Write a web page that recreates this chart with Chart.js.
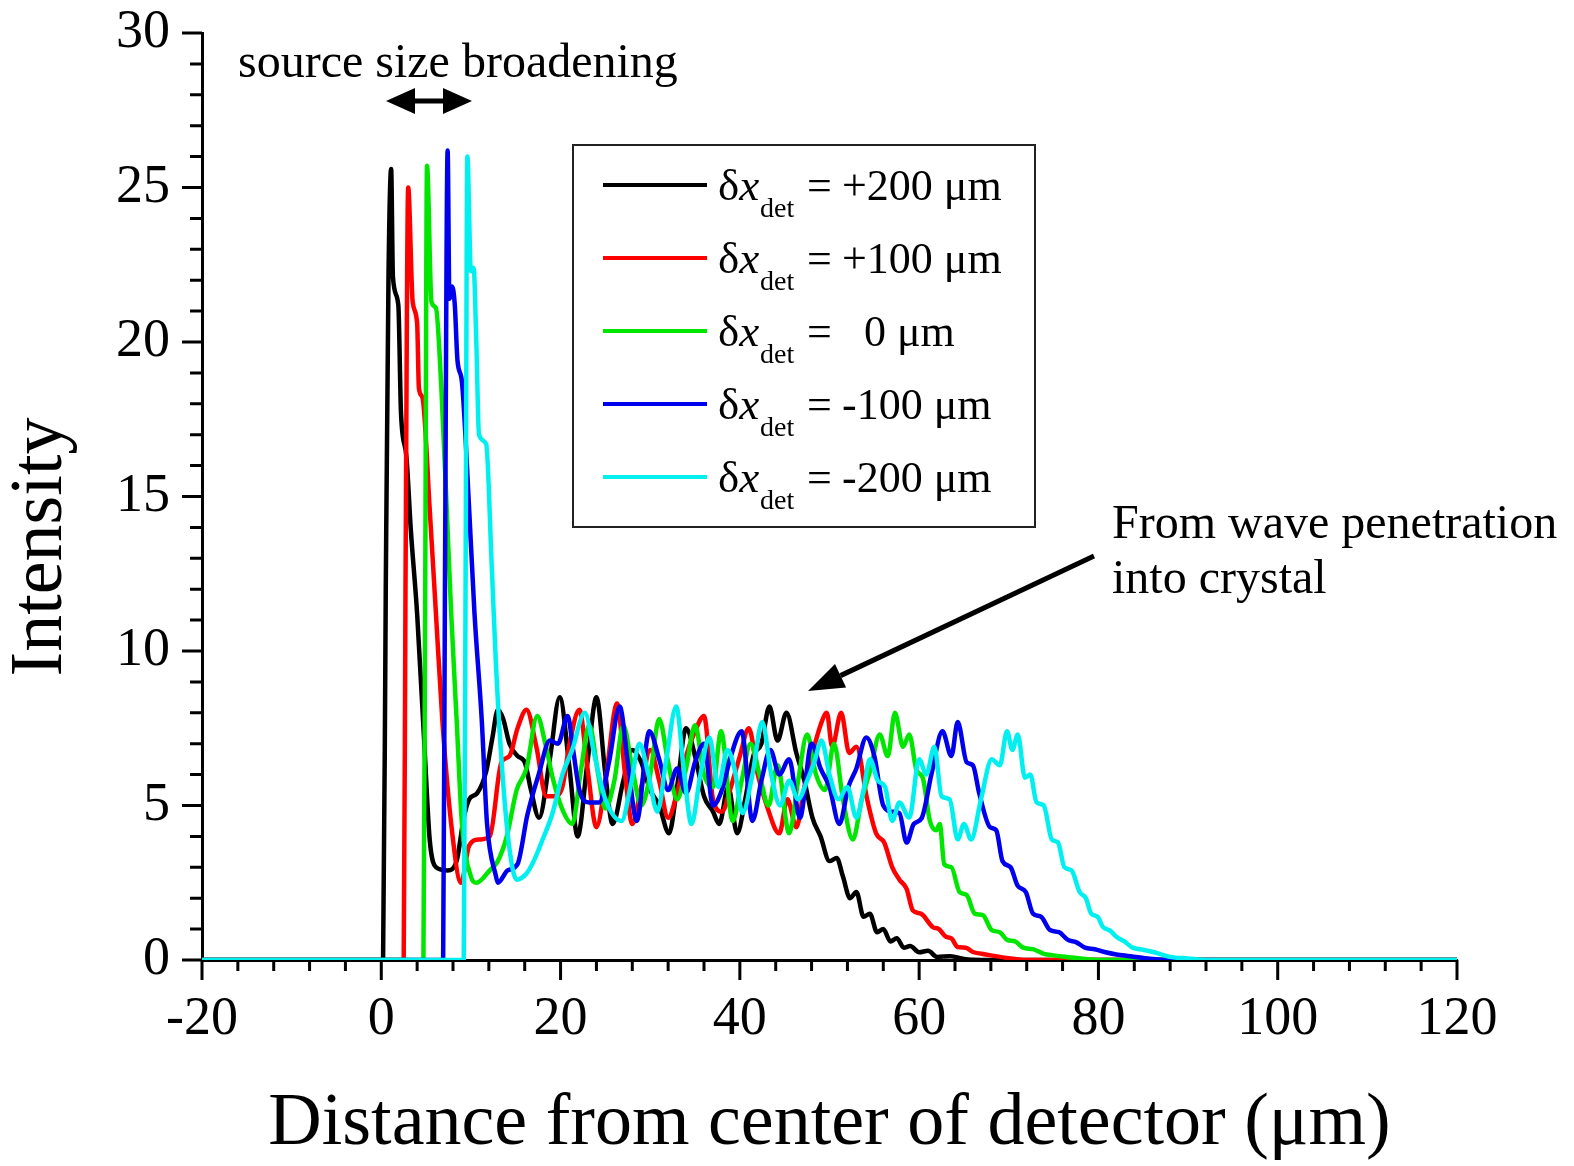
<!DOCTYPE html>
<html>
<head>
<meta charset="utf-8">
<script src="https://cdn.jsdelivr.net/npm/chart.js@4.4.1/dist/chart.umd.min.js"></script>
<style>
  html, body { margin: 0; padding: 0; background: #fff; }
  #wrap { width: 1574px; height: 1166px; }
</style>
</head>
<body>
<div id="wrap"><canvas id="profileChart" width="1574" height="1166"></canvas></div>
<script>
// Intensity profiles, [distance (um), intensity]
const plus200 = [[-20,0],[0.2,0],[0.5,12],[0.8,22],[1.1,25.6],[1.3,22.1],[1.9,21.2],[2.2,17.7],[2.8,16.3],[3.3,13.9],[4.0,11.2],[4.8,7.0],[5.4,3.9],[6.1,3.0],[7.4,2.9],[8.4,3.2],[9.2,4.6],[9.8,5.2],[10.7,5.4],[11.7,6.1],[12.4,7.2],[13.0,8.1],[13.6,7.8],[14.3,7.0],[15.2,6.6],[16.0,6.4],[16.7,5.5],[17.6,4.6],[18.8,6.5],[19.9,8.5],[21.0,6.2],[21.9,4.0],[23.0,6.4],[24.0,8.5],[25.0,6.0],[25.8,4.4],[27.0,5.8],[28.0,6.8],[29.0,6.4],[30.0,5.5],[31.0,5.0],[32.1,4.1],[33.0,5.6],[34.0,7.5],[35.0,6.6],[36.0,5.3],[37.0,4.8],[37.7,4.4],[38.7,5.6],[39.7,4.1],[40.6,5.2],[41.5,6.6],[42.4,7.0],[43.3,8.2],[44.2,7.1],[45.2,8.0],[46.3,6.7],[47.2,5.8],[48.1,4.6],[49.0,4.0],[50.0,3.2],[50.8,3.3],[51.5,2.7],[52.3,2.0],[53.0,2.2],[53.8,1.4],[54.5,1.5],[55.3,0.9],[56.0,1.0],[56.8,0.6],[57.5,0.7],[58.3,0.4],[59.0,0.45],[60.0,0.25],[61.0,0.3],[62.0,0.1],[63.5,0.12],[65,0.03],[67,0],[120,0]];

const plus100 = [[-20,0],[2.5,0],[2.7,12],[3.0,25.0],[3.5,21.3],[4.0,20.6],[4.2,18.5],[4.6,18.2],[5.4,14.6],[6.1,11.2],[6.8,7.8],[7.8,4.4],[8.9,2.5],[9.8,3.7],[10.9,3.9],[12.1,4.0],[13.4,6.4],[14.3,6.6],[15.2,7.5],[16.2,8.1],[17.3,6.9],[18.4,5.3],[19.3,5.3],[20.2,5.6],[21.0,7.0],[22.1,8.1],[23.0,6.2],[24.0,4.3],[25.1,6.0],[26.3,8.3],[27.2,6.0],[28.0,4.4],[29.0,5.6],[30.0,6.8],[31.0,5.8],[32.0,4.6],[33.0,5.4],[34.0,6.6],[35.0,7.4],[36.0,7.9],[37.0,5.2],[38.0,4.8],[39.0,5.6],[40.0,6.6],[41.0,7.5],[42.0,6.0],[43.0,5.0],[44.4,4.1],[45.3,5.2],[46.3,4.3],[47.2,5.6],[48.2,6.8],[49.0,7.6],[49.7,8.0],[50.3,6.9],[51.3,8.0],[52.2,6.7],[53.0,6.9],[54.2,5.2],[55.2,4.1],[56.1,3.8],[57.0,3.0],[57.8,2.6],[58.6,2.3],[59.3,1.6],[60.2,1.5],[61.5,1.07],[62.2,1.0],[63.0,0.75],[63.6,0.7],[64.3,0.42],[65.2,0.4],[66.0,0.26],[67,0.2],[68,0.15],[70,0.06],[72,0],[120,0]];

const zero = [[-20,0],[4.7,0],[4.9,12],[5.1,25.7],[5.6,21.3],[6.1,21.1],[6.7,18.5],[7.3,14.6],[7.8,11.2],[8.4,7.8],[9.0,4.4],[10.0,2.7],[10.6,2.5],[12.1,2.9],[13.0,3.2],[14.0,4.0],[15.1,5.5],[16.2,6.2],[17.4,7.9],[18.3,7.0],[19.2,5.8],[20.3,4.8],[21.3,4.4],[22.3,6.2],[23.2,7.6],[24.2,6.0],[25.0,4.9],[26.0,5.8],[27.0,7.6],[28.0,6.2],[29.0,5.0],[30.0,6.0],[31.0,7.8],[32.0,6.4],[33.0,5.2],[34.0,6.2],[35.0,7.6],[36.0,6.0],[37.0,5.6],[37.9,7.4],[39.2,4.5],[40.2,5.8],[41.2,7.0],[42.2,6.0],[43.2,5.0],[44.2,6.3],[45.5,4.1],[46.5,5.8],[47.5,7.3],[48.5,6.0],[49.5,5.5],[50.5,7.0],[51.5,5.2],[52.6,3.9],[53.6,5.2],[54.6,6.2],[55.6,7.3],[56.5,6.6],[57.3,8.0],[58.2,6.9],[58.9,7.3],[59.7,6.15],[60.4,5.9],[61.2,4.5],[61.9,4.2],[62.3,4.4],[62.8,3.1],[63.6,3.0],[64.5,2.2],[65.3,2.1],[66.2,1.5],[67.1,1.45],[68.1,0.97],[69.0,0.9],[69.8,0.65],[70.7,0.6],[71.6,0.4],[72.7,0.35],[73.9,0.2],[75,0.15],[76.4,0.1],[78,0.05],[80,0],[120,0]];

const minus100 = [[-20,0],[6.9,0],[7.1,12],[7.4,26.2],[7.6,21.4],[7.9,21.8],[8.2,21.2],[8.5,19.4],[9.0,18.7],[9.8,14.6],[10.4,11.2],[11.2,7.8],[11.8,4.4],[12.8,2.7],[13.0,2.5],[14.1,2.9],[15.2,3.1],[16.3,4.7],[17.6,6.05],[18.8,7.1],[19.7,7.0],[20.8,7.9],[21.4,6.8],[22.1,5.5],[23.2,5.1],[24.3,5.1],[25.4,6.4],[26.6,8.2],[27.5,6.4],[28.5,4.5],[29.9,7.4],[31.0,6.5],[32.0,5.5],[33.0,6.2],[34.0,5.4],[35.0,6.4],[36.0,7.0],[37.0,5.0],[38.0,5.5],[39.0,6.6],[40.2,7.4],[41.4,4.5],[42.4,5.8],[43.4,6.8],[44.4,6.0],[45.5,6.5],[46.7,4.6],[48.0,7.0],[49.0,6.2],[50.0,5.6],[51.1,4.4],[52.1,5.6],[53.0,6.2],[54.1,7.2],[55.0,6.6],[56.0,5.0],[57.0,4.8],[57.8,4.75],[58.6,3.8],[59.4,4.4],[60.3,4.6],[61.4,6.05],[62.6,7.4],[63.6,6.6],[64.3,7.7],[65.3,6.4],[66.0,6.3],[66.7,5.4],[67.9,4.3],[68.6,4.2],[69.3,3.2],[70.2,3.0],[71.0,2.4],[71.9,2.2],[72.7,1.5],[73.6,1.4],[74.6,0.97],[75.6,0.9],[76.6,0.65],[77.5,0.58],[78.5,0.4],[79.6,0.35],[80.8,0.25],[82,0.18],[83.3,0.13],[85.5,0.05],[88,0],[120,0]];

const minus200 = [[-20,0],[9.2,0],[9.4,12],[9.6,26.0],[10.0,22.3],[10.3,22.4],[10.6,20.0],[10.9,17.0],[11.7,16.7],[12.3,12.9],[12.8,9.5],[13.5,6.1],[14.3,3.6],[15.1,2.6],[16.2,2.8],[17.0,3.2],[18.0,3.9],[19.1,4.75],[20.2,6.0],[21.3,6.8],[22.7,8.0],[23.8,6.6],[25.0,5.2],[26.8,4.5],[27.8,5.6],[28.8,7.0],[29.8,6.0],[30.8,4.8],[31.8,6.5],[32.9,8.2],[33.8,6.0],[34.6,4.4],[35.6,6.0],[36.6,7.2],[37.6,5.6],[38.6,6.8],[39.4,6.2],[40.3,4.75],[41.4,6.0],[42.5,7.7],[43.5,6.0],[44.5,5.0],[45.5,5.8],[46.5,5.2],[47.5,5.8],[48.3,6.4],[49.1,7.1],[50.0,6.0],[51.0,5.2],[52.0,5.6],[53.0,4.6],[53.8,5.5],[54.5,6.5],[55.4,5.8],[56.2,5.6],[57.0,4.5],[57.8,5.1],[58.9,4.6],[60.0,6.5],[60.8,6.0],[61.7,6.9],[62.5,5.3],[63.4,5.2],[64.3,3.9],[65.0,4.4],[65.8,3.9],[66.9,5.2],[68.1,6.5],[69.0,6.3],[69.8,7.4],[70.4,6.8],[71.0,7.3],[71.8,5.9],[72.4,6.0],[73.1,5.1],[73.9,5.0],[74.8,3.9],[75.5,3.8],[76.2,3.0],[77.0,2.9],[77.9,2.2],[78.6,2.0],[79.2,1.5],[79.9,1.4],[80.5,1.07],[81.3,0.95],[82.0,0.75],[82.9,0.6],[83.8,0.4],[85,0.33],[86.1,0.26],[88,0.1],[90,0.05],[92,0],[120,0]];

const seriesData = [plus200, plus100, zero, minus100, minus200];
const seriesLabels = ['+200 μm', '+100 μm', '0 μm', '-100 μm', '-200 μm'];
const seriesColors = ['#000000', '#ff0000', '#00e600', '#0000ee', '#00f0f0'];

const serif = "'Liberation Serif', 'Times New Roman', serif";

// Draws minor/major ticks, annotations, the legend and the y title
const overlayPlugin = {
    id: 'overlay',
    afterDraw(chart) {
        const { ctx, scales: { x, y } } = chart;
        ctx.save();

        // ticks (outside)
        ctx.strokeStyle = '#000';
        ctx.lineWidth = 3;
        ctx.beginPath();
        for (let v = -20; v <= 120; v += 4) {
            const px = x.getPixelForValue(v);
            const len = v % 20 === 0 ? 20 : 11;
            ctx.moveTo(px, y.bottom);
            ctx.lineTo(px, y.bottom + len);
        }
        for (let v = 0; v <= 30; v += 1) {
            const py = y.getPixelForValue(v);
            const len = v % 5 === 0 ? 20 : 12;
            ctx.moveTo(x.left - len, py);
            ctx.lineTo(x.left, py);
        }
        ctx.stroke();

        // y title
        ctx.fillStyle = '#000';
        ctx.save();
        ctx.translate(42, 547);
        ctx.rotate(-Math.PI / 2);
        ctx.font = '74px ' + serif;
        ctx.textAlign = 'center';
        ctx.textBaseline = 'middle';
        ctx.fillText('Intensity', 0, 0);
        ctx.restore();

        // annotations
        ctx.font = '48px ' + serif;
        ctx.textAlign = 'left';
        ctx.textBaseline = 'alphabetic';
        ctx.fillText('source size broadening', 238, 77);
        ctx.fillText('From wave penetration', 1112, 538);
        ctx.fillText('into crystal', 1112, 593);

        // double arrow
        ctx.lineWidth = 5;
        ctx.beginPath();
        ctx.moveTo(405, 101);
        ctx.lineTo(453, 101);
        ctx.stroke();
        ctx.beginPath();
        ctx.moveTo(386, 101); ctx.lineTo(415, 88); ctx.lineTo(415, 114); ctx.closePath();
        ctx.moveTo(472, 101); ctx.lineTo(443, 88); ctx.lineTo(443, 114); ctx.closePath();
        ctx.fill();

        // pointer arrow
        const sx = 1094, sy = 556, tx = 808, ty = 691;
        const ang = Math.atan2(ty - sy, tx - sx);
        const hl = 36, hw = 13;
        const bx = tx - hl * Math.cos(ang), by = ty - hl * Math.sin(ang);
        ctx.beginPath();
        ctx.moveTo(sx, sy);
        ctx.lineTo(bx, by);
        ctx.stroke();
        ctx.beginPath();
        ctx.moveTo(tx, ty);
        ctx.lineTo(bx + hw * Math.sin(ang), by - hw * Math.cos(ang));
        ctx.lineTo(bx - hw * Math.sin(ang), by + hw * Math.cos(ang));
        ctx.closePath();
        ctx.fill();

        // legend
        ctx.fillStyle = '#fff';
        ctx.fillRect(573, 145, 462, 382);
        ctx.strokeStyle = '#222';
        ctx.lineWidth = 2;
        ctx.strokeRect(573, 145, 462, 382);
        seriesLabels.forEach((label, i) => {
            const ly = 185 + i * 73;
            ctx.strokeStyle = seriesColors[i];
            ctx.lineWidth = 4;
            ctx.beginPath();
            ctx.moveTo(603, ly);
            ctx.lineTo(707, ly);
            ctx.stroke();
            ctx.fillStyle = '#000';
            ctx.font = '45px ' + serif;
            ctx.fillText('δ', 718, ly + 15);
            const dw = ctx.measureText('δ').width;
            ctx.font = 'italic 45px ' + serif;
            ctx.fillText('x', 718 + dw, ly + 15);
            ctx.font = '28px ' + serif;
            ctx.fillText('det', 760, ly + 32);
            ctx.font = '44px ' + serif;
            ctx.fillText('=', 807, ly + 15);
            ctx.fillText(label, label === '0 μm' ? 864 : 842, ly + 15);
        });

        ctx.restore();
    }
};

function buildDatasets() {
    return seriesData.map((pts, i) => ({
        label: seriesLabels[i],
        data: pts.map(p => ({ x: p[0], y: p[1] })),
        borderColor: seriesColors[i],
        borderWidth: 4.5,
        pointRadius: 0,
        fill: false,
        cubicInterpolationMode: 'monotone',
        order: seriesData.length - i
    }));
}

const ctx = document.getElementById('profileChart').getContext('2d');
new Chart(ctx, {
    type: 'line',
    data: { datasets: buildDatasets() },
    options: {
        responsive: false,
        animation: false,
        devicePixelRatio: 1,
        layout: { padding: { top: 33, right: 117, left: 0, bottom: 0 } },
        plugins: {
            legend: { display: false },
            tooltip: { enabled: false }
        },
        scales: {
            x: {
                type: 'linear',
                min: -20,
                max: 120,
                afterFit: s => { s.height = 206; s.paddingLeft = 0; s.paddingRight = 0; },
                ticks: {
                    stepSize: 20,
                    maxRotation: 0,
                    autoSkip: false,
                    padding: 27,
                    color: '#000',
                    font: { family: serif, size: 54 }
                },
                grid: { display: false, drawTicks: false },
                border: { display: true, color: '#000', width: 3 },
                title: {
                    display: true,
                    text: 'Distance from center of detector (μm)',
                    color: '#000',
                    font: { family: serif, size: 74, lineHeight: 1 },
                    padding: 4
                }
            },
            y: {
                min: 0,
                max: 30,
                afterFit: s => { s.width = 202; s.paddingTop = 0; s.paddingBottom = 0; },
                ticks: {
                    stepSize: 5,
                    padding: 32,
                    color: '#000',
                    font: { family: serif, size: 54 }
                },
                grid: { display: false, drawTicks: false },
                border: { display: true, color: '#000', width: 3 }
            }
        }
    },
    plugins: [overlayPlugin]
});
</script>
</body>
</html>
